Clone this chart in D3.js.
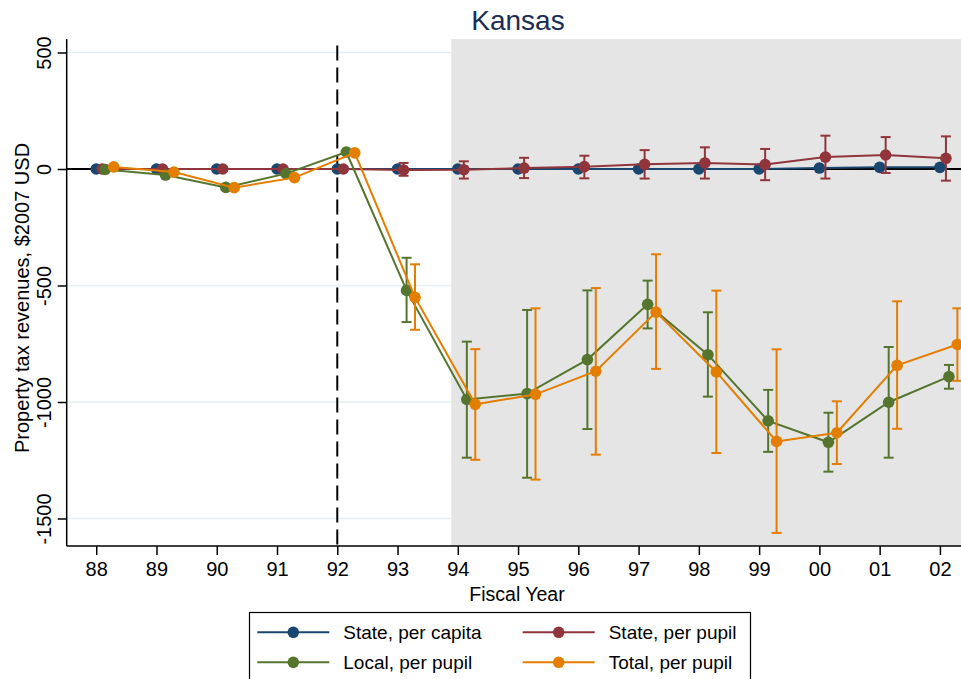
<!DOCTYPE html>
<html>
<head>
<meta charset="utf-8">
<script src="https://cdn.jsdelivr.net/npm/d3@7"></script>
<style>
  html, body { margin: 0; padding: 0; background: #fff; }
  svg { display: block; font-family: "Liberation Sans", Arial, sans-serif; }
</style>
</head>
<body>
<svg id="chart" width="961" height="679"></svg>
<script>
// Fiscal years on the x axis
const years = ["88", "89", "90", "91", "92", "93", "94", "95", "96", "97", "98", "99", "00", "01", "02"];
const yTicks = [500, 0, -500, -1000, -1500];

// Point estimates (2007 dollars) and 95% bounds; null = no interval drawn
const statePerCapita = [0, 0, 0, 0, 0, 0, 0, 0, 0, 0, 0, 0, 4, 7, 7];

const statePerPupil   = [0, 0, 0, 0, 0, -4, -3, 4, 10, 20, 26, 19, 51, 60, 46];
const statePerPupilLo = [null, null, null, null, null, -29, -41, -39, -40, -41, -41, -48, -41, -17, -50];
const statePerPupilHi = [null, null, null, null, null, 26, 33, 48, 57, 81, 93, 86, 143, 137, 140];

const localPerPupil   = [-2, -26, -79, -20, 73, -521, -989, -964, -818, -581, -797, -1081, -1173, -1001, -891];
const localPerPupilLo = [null, null, null, null, null, -657, -1239, -1325, -1116, -684, -977, -1214, -1299, -1239, -943];
const localPerPupilHi = [null, null, null, null, null, -381, -741, -605, -521, -479, -615, -948, -1046, -764, -841];

const totalPerPupil   = [9, -13, -80, -37, 69, -551, -1010, -967, -868, -614, -871, -1169, -1132, -843, -753];
const totalPerPupilLo = [null, null, null, null, null, -690, -1248, -1333, -1226, -858, -1219, -1562, -1266, -1115, -909];
const totalPerPupilHi = [null, null, null, null, null, -409, -773, -598, -511, -366, -522, -774, -997, -568, -598];

const series = [
  { name: "State, per capita", color: "#1a476f", shift: 0.00, v: statePerCapita, lo: null, hi: null },
  { name: "State, per pupil",  color: "#90353b", shift: 0.10, v: statePerPupil, lo: statePerPupilLo, hi: statePerPupilHi },
  { name: "Local, per pupil",  color: "#55752f", shift: 0.15, v: localPerPupil, lo: localPerPupilLo, hi: localPerPupilHi },
  { name: "Total, per pupil",  color: "#e37e00", shift: 0.29, v: totalPerPupil, lo: totalPerPupilLo, hi: totalPerPupilHi }
];

const svg = d3.select("#chart");
const pLeft = 66.7, pRight = 961, pTop = 39, pBottom = 546;

// index-based x scale so each series can be nudged sideways
const x = d3.scaleLinear().domain([-0.49, 14.35]).range([pLeft, pRight]);
const y = d3.scaleLinear().domain([0, -1000]).range([169, 402]);

// gridlines
svg.append("g").selectAll("line").data(yTicks).join("line")
  .attr("x1", pLeft).attr("x2", pRight)
  .attr("y1", d => y(d)).attr("y2", d => y(d))
  .attr("stroke", "#e6eff1").attr("stroke-width", 1.5);

// shaded post-reform window
svg.append("rect")
  .attr("x", x(5.89)).attr("y", pTop)
  .attr("width", pRight - x(5.89)).attr("height", pBottom - pTop)
  .attr("fill", "#e5e5e5");

// zero reference
svg.append("line")
  .attr("x1", pLeft).attr("x2", pRight)
  .attr("y1", y(0)).attr("y2", y(0))
  .attr("stroke", "#000").attr("stroke-width", 2);

// reform year marker
svg.append("line")
  .attr("x1", x(4)).attr("x2", x(4))
  .attr("y1", y(530)).attr("y2", pBottom)
  .attr("stroke", "#000").attr("stroke-width", 2)
  .attr("stroke-dasharray", "15,7");

// y axis
const yAxis = svg.append("g").attr("transform", `translate(${pLeft},0)`)
  .call(d3.axisLeft(y).tickValues(yTicks).tickSize(9).tickSizeOuter(0).tickFormat(d => String(d)));
yAxis.select(".domain").attr("d", `M0,${pTop}V${pBottom}`).attr("stroke", "#000").attr("stroke-width", 1.5);
yAxis.selectAll(".tick line").attr("stroke", "#000").attr("stroke-width", 1.5);
yAxis.selectAll(".tick text")
  .attr("font-size", 20).attr("fill", "#000")
  .attr("text-anchor", "middle")
  .attr("transform", "rotate(-90)")
  .attr("x", 0).attr("dy", 0)
  .attr("y", -16);

// x axis
const xAxis = svg.append("g").attr("transform", `translate(0,${pBottom})`)
  .call(d3.axisBottom(x).tickValues(d3.range(years.length)).tickSize(9).tickSizeOuter(0)
    .tickFormat(i => years[i]));
xAxis.select(".domain").attr("d", `M${pLeft},0H${pRight}`).attr("stroke", "#000").attr("stroke-width", 1.5);
xAxis.selectAll(".tick line").attr("stroke", "#000").attr("stroke-width", 1.5);
xAxis.selectAll(".tick text").attr("font-size", 20).attr("fill", "#000").attr("y", 30).attr("dy", 0);

// axis titles and heading
svg.append("text").attr("x", 517).attr("y", 600.5)
  .attr("text-anchor", "middle").attr("font-size", 19.5).attr("fill", "#000").text("Fiscal Year");
svg.append("text")
  .attr("transform", "translate(29,298) rotate(-90)")
  .attr("text-anchor", "middle").attr("font-size", 20).attr("fill", "#000")
  .text("Property tax revenues, $2007 USD");
svg.append("text").attr("x", 518).attr("y", 30)
  .attr("text-anchor", "middle").attr("font-size", 28).attr("fill", "#1c2d54").text("Kansas");

// series: error bars, lines, markers
const line = d3.line().x(d => x(d.i)).y(d => y(d.v));
series.forEach(s => {
  const pts = s.v.map((v, i) => ({ i: i + s.shift, v, lo: s.lo ? s.lo[i] : null, hi: s.hi ? s.hi[i] : null }));
  const g = svg.append("g");
  const bars = pts.filter(p => p.lo !== null);
  g.selectAll("line.ci").data(bars).join("line").attr("class", "ci")
    .attr("x1", d => x(d.i)).attr("x2", d => x(d.i))
    .attr("y1", d => y(d.lo)).attr("y2", d => y(d.hi))
    .attr("stroke", s.color).attr("stroke-width", 2);
  ["lo", "hi"].forEach(k => {
    g.selectAll("line.cap" + k).data(bars).join("line").attr("class", "cap" + k)
      .attr("x1", d => x(d.i) - 5).attr("x2", d => x(d.i) + 5)
      .attr("y1", d => y(d[k])).attr("y2", d => y(d[k]))
      .attr("stroke", s.color).attr("stroke-width", 2);
  });
  g.append("path").datum(pts).attr("d", line)
    .attr("fill", "none").attr("stroke", s.color).attr("stroke-width", 2);
  g.selectAll("circle").data(pts).join("circle")
    .attr("cx", d => x(d.i)).attr("cy", d => y(d.v)).attr("r", 5.8)
    .attr("fill", s.color);
});

// legend
const lg = svg.append("g");
lg.append("rect").attr("x", 249.5).attr("y", 612.5).attr("width", 501).attr("height", 75)
  .attr("fill", "#fff").attr("stroke", "#000").attr("stroke-width", 1.2);
const cols = [257.3, 522.7];
series.forEach((s, k) => {
  const cx = cols[k % 2], cy = k < 2 ? 632.3 : 662.3;
  lg.append("line").attr("x1", cx).attr("x2", cx + 72).attr("y1", cy).attr("y2", cy)
    .attr("stroke", s.color).attr("stroke-width", 2);
  lg.append("circle").attr("cx", cx + 36).attr("cy", cy).attr("r", 5.8).attr("fill", s.color);
  lg.append("text").attr("x", cx + 86).attr("y", cy + 6.8)
    .attr("font-size", 19).attr("fill", "#000").text(s.name);
});
</script>
</body>
</html>
